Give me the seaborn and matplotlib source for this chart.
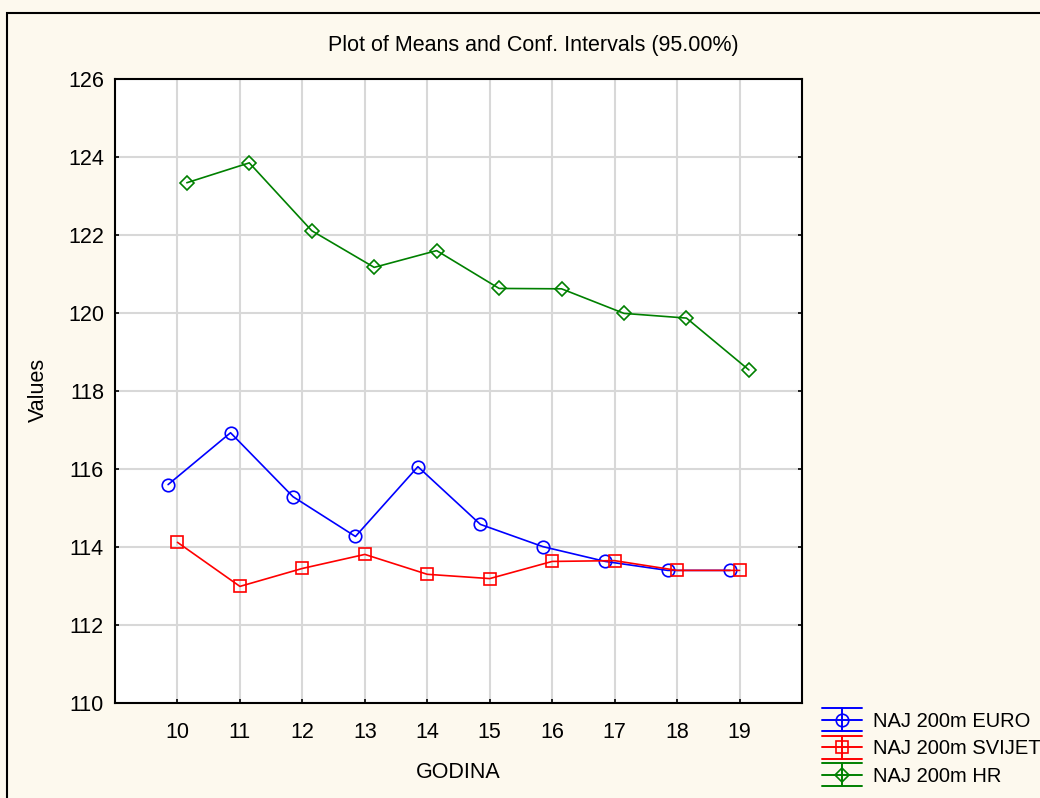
import matplotlib
matplotlib.use('Agg')
import matplotlib.pyplot as plt
import pandas as pd
import numpy as np
import seaborn as sns
from matplotlib.lines import Line2D
from matplotlib.patches import Rectangle
from matplotlib.legend_handler import HandlerBase

# data
godina = [10, 11, 12, 13, 14, 15, 16, 17, 18, 19]
euro = [115.60, 116.93, 115.29, 114.27, 116.06, 114.58, 114.01, 113.63, 113.40, 113.40]
svijet = [114.12, 112.99, 113.45, 113.81, 113.30, 113.19, 113.63, 113.65, 113.40, 113.40]
hr = [123.34, 123.85, 122.11, 121.17, 121.60, 120.63, 120.62, 119.99, 119.87, 118.54]

series = ['NAJ 200m EURO', 'NAJ 200m SVIJET', 'NAJ 200m HR']
offsets = {'NAJ 200m EURO': -0.15, 'NAJ 200m SVIJET': 0.0, 'NAJ 200m HR': 0.15}
colors = {'NAJ 200m EURO': '#0000FF', 'NAJ 200m SVIJET': '#FF0000', 'NAJ 200m HR': '#008000'}
markers = {'NAJ 200m EURO': 'o', 'NAJ 200m SVIJET': 's', 'NAJ 200m HR': 'D'}
msizes = {'NAJ 200m EURO': 9.0, 'NAJ 200m SVIJET': 8.5, 'NAJ 200m HR': 7.3}

frames = []
for name, vals in zip(series, [euro, svijet, hr]):
    frames.append(pd.DataFrame({'GODINA': godina, 'Values': vals, 'serie': name}))
df = pd.concat(frames, ignore_index=True)
df['xpos'] = df['GODINA'] + df['serie'].map(offsets)

sns.set_style('white')
plt.rcParams['font.family'] = ['Liberation Sans', 'DejaVu Sans']
plt.rcParams['text.color'] = 'black'
plt.rcParams['xtick.color'] = 'black'
plt.rcParams['ytick.color'] = 'black'

bg = '#FDF9EE'
fig = plt.figure(figsize=(10.4, 7.98), dpi=100, facecolor=bg)
ax = fig.add_axes([115/1040, 1 - 703/798, (802-115)/1040, (703-79)/798])
ax.set_facecolor('white')

for name in series:
    sub = df[df['serie'] == name]
    sns.lineplot(data=sub, x='xpos', y='Values', ax=ax, color=colors[name],
                 marker=markers[name], markersize=msizes[name], markerfacecolor='none',
                 markeredgecolor=colors[name], markeredgewidth=1.2, linewidth=1.2,
                 label=name, legend=False, sort=False)

ax.set_xlim(9, 20)
ax.set_ylim(110, 126)
ax.set_xticks(godina)
ax.set_xticklabels([str(g) for g in godina])
ax.set_yticks(np.arange(110, 127, 2))
ax.grid(True, color='#D8D8D8', linewidth=1.5)
ax.set_axisbelow(True)
ax.tick_params(direction='in', length=3, width=1.2, labelsize=15.5, pad=8,
               right=True, left=True, bottom=True, colors='black')
ax.tick_params(axis='x', pad=14)
for sp in ax.spines.values():
    sp.set_color('black')
    sp.set_linewidth(1.5)
ax.set_xlabel('')
ax.set_ylabel('')

fig.text(533/1040, 1 - 45/798, 'Plot of Means and Conf. Intervals (95.00%)',
         ha='center', va='center', fontsize=15.5)
fig.text(38/1040, 1 - 390/798, 'Values', rotation=90, ha='center', va='center', fontsize=15.5)
fig.text(458/1040, 1 - 773/798, 'GODINA', ha='center', va='center', fontsize=15.5)

# outer border of the Statistica graph window
fig.add_artist(Rectangle((7/1040, -0.05), 1.2, 1 - 13/798 + 0.05, transform=fig.transFigure,
                         fill=False, edgecolor='black', linewidth=1.5, clip_on=False))


class ErrBarHandler(HandlerBase):
    def create_artists(self, legend, orig_handle, xdescent, ydescent, width, height,
                       fontsize, trans):
        c = orig_handle.get_color()
        x0 = -xdescent
        x1 = x0 + width
        xm = (x0 + x1) / 2
        ym = -ydescent + height / 2
        h = 8.3
        arts = []
        for y in (ym - h, ym, ym + h):
            arts.append(Line2D([x0, x1], [y, y], color=c, linewidth=1.4))
        arts.append(Line2D([xm, xm], [ym - h, ym + h], color=c, linewidth=1.4))
        arts.append(Line2D([xm], [ym], marker=orig_handle.get_marker(),
                           markersize=orig_handle.get_markersize(), markerfacecolor='none',
                           markeredgecolor=c, markeredgewidth=1.2, linestyle='none'))
        for a in arts:
            a.set_transform(trans)
        return arts


handles = [Line2D([], [], color=colors[s], marker=markers[s], markersize=msizes[s])
           for s in series]
leg = fig.legend(handles, series, loc='upper left', bbox_to_anchor=(822/1040, 1 - 712/798),
                 frameon=False, fontsize=14.5, handlelength=2.0, handletextpad=0.55,
                 labelspacing=0.42, borderaxespad=0, borderpad=0,
                 handler_map={Line2D: ErrBarHandler()})

fig.savefig('out.png', dpi=100, facecolor=bg)
